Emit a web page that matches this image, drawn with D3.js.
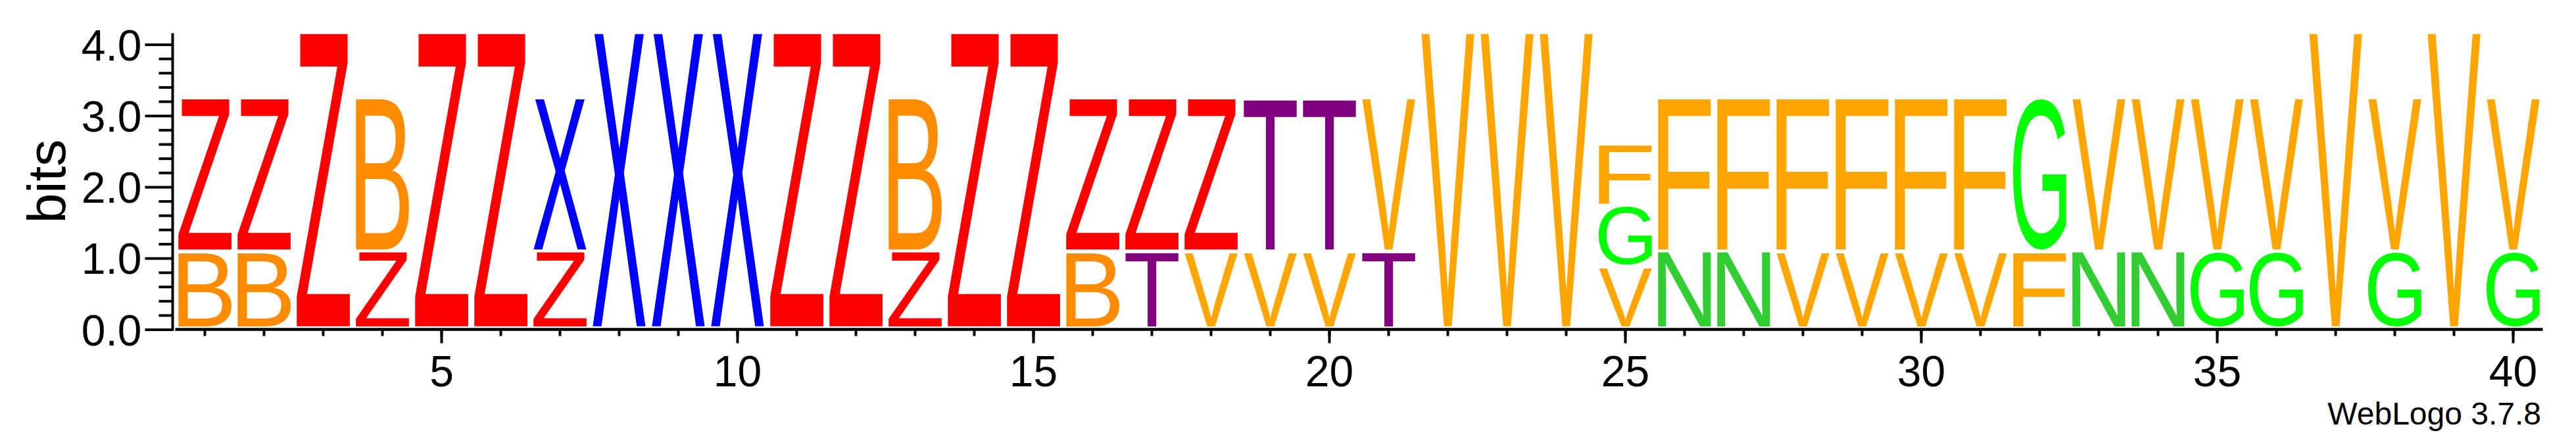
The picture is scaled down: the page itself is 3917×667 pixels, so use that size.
<!DOCTYPE html>
<html><head><meta charset="utf-8">
<script src="https://cdn.jsdelivr.net/npm/d3@7"></script>
<style>html,body{margin:0;padding:0;background:#fff;} svg{display:block;}</style>
</head><body>
<svg id="chart" width="3917" height="667"></svg>
<script>
// ---------- data ----------
const positions = [1,2,3,4,5,6,7,8,9,10,11,12,13,14,15,16,17,18,19,20,
                   21,22,23,24,25,26,27,28,29,30,31,32,33,34,35,36,37,38,39,40];
// letters of each stack, bottom to top
const stackLetters = ["BZ","BZ","Z","ZB","Z","Z","ZX","X","X","X",
                      "Z","Z","ZB","Z","Z","BZ","TZ","VZ","VT","VT",
                      "TV","V","V","V","VGF","NF","NF","VF","VF","VF",
                      "VF","FG","NV","NV","GV","GV","V","GV","V","GV"];
// heights (bits) of each letter, bottom to top
const stackHeights = [
  [1.078,2.156],[1.078,2.156],[4.156],[1.078,2.156],[4.156],[4.156],[1.078,2.156],[4.156],[4.156],[4.156],
  [4.156],[4.156],[1.078,2.156],[4.156],[4.156],[1.078,2.156],[1.078,2.156],[1.078,2.156],[1.078,2.156],[1.078,2.156],
  [1.078,2.156],[4.156],[4.156],[4.156],[0.86,0.86,0.86],[1.078,2.156],[1.078,2.156],[1.078,2.156],[1.078,2.156],[1.078,2.156],
  [1.078,2.156],[1.078,2.156],[1.078,2.156],[1.078,2.156],[1.078,2.156],[1.078,2.156],[4.156],[1.078,2.156],[4.156],[1.078,2.156]
];
const letterColors = {Z:"#FF0000", B:"#FF8C00", X:"#0000FF", T:"#800080",
                      V:"#FFA500", F:"#FFA500", G:"#00FF00", N:"#32CD32"};
const yMajorTicks = [0,1,2,3,4];
const yTickLabels = ["0.0","1.0","2.0","3.0","4.0"];
const yMinorTicks = [0.2,0.4,0.6,0.8,1.2,1.4,1.6,1.8,2.2,2.4,2.6,2.8,3.2,3.4,3.6,3.8];
const xMajorTicks = [5,10,15,20,25,30,35,40];
const yAxisMax = 4.156;
const yAxisTitle = "bits";
const footer = "WebLogo 3.7.8";

// ---------- layout ----------
const FONT = "'Liberation Sans', Arial, Helvetica, sans-serif";
const svg = d3.select("#chart");
const x = d3.scaleBand().domain(positions).range([266.5, 3866.5]).paddingInner(0.1).paddingOuter(0.05);
const y = d3.scaleLinear().domain([0, yAxisMax]).range([500.5, 50.5]);
const glyphPad = 4.7;

// measure glyph ink boxes
const ctx = document.createElement("canvas").getContext("2d");
const REF = 200;
ctx.font = `${REF}px ${FONT}`;
const inkCache = {};
function ink(ch){
  if(!inkCache[ch]){
    const m = ctx.measureText(ch);
    inkCache[ch] = {l:m.actualBoundingBoxLeft, r:m.actualBoundingBoxRight,
                    a:m.actualBoundingBoxAscent, d:m.actualBoundingBoxDescent};
  }
  return inkCache[ch];
}

// build glyph records
const glyphs = [];
positions.forEach((p, i) => {
  let base = 0;
  stackLetters[i].split("").forEach((ch, j) => {
    const h = stackHeights[i][j];
    glyphs.push({pos:p, ch, lo:base, hi:base+h});
    base += h;
  });
});

svg.append("g").attr("class","glyphs")
  .selectAll("text").data(glyphs).join("text")
  .attr("font-family", FONT).attr("font-size", REF)
  .attr("fill", d => letterColors[d.ch])
  .attr("transform", d => {
    const m = ink(d.ch);
    const x0 = x(d.pos), w = x.bandwidth();
    const yb = y(d.lo) - glyphPad, yt = y(d.hi);
    const sx = w / (m.l + m.r), sy = (yb - yt) / (m.a + m.d);
    return `translate(${x0},${yb}) scale(${sx},${sy}) translate(${m.l},${-m.d})`;
  })
  .text(d => d.ch);

// ---------- y axis ----------
const ya = svg.append("g").attr("transform","translate(262.5,0)");
ya.call(d3.axisLeft(y).tickValues(yMinorTicks).tickSize(21).tickSizeOuter(0).tickFormat(""));
ya.call(g => g.select(".domain").remove());
const yb = svg.append("g").attr("transform","translate(262.5,0)");
yb.call(d3.axisLeft(y).tickValues(yMajorTicks).tickSize(42).tickPadding(5).tickSizeOuter(0)
        .tickFormat((d,i) => yTickLabels[i]));
yb.call(g => g.select(".domain").remove());
yb.selectAll("text").attr("font-family", FONT).attr("font-size", 66).attr("fill","#000").attr("dy","0.36em");
svg.selectAll(".tick line").attr("stroke","#000").attr("stroke-width",4);
svg.append("line").attr("x1",262.5).attr("x2",262.5).attr("y1",y(yAxisMax)).attr("y2",y(0)+2.3)
  .attr("stroke","#000").attr("stroke-width",4);

// ---------- x axis ----------
const xa = svg.append("g").attr("transform",`translate(0,${y(0)})`);
xa.call(d3.axisBottom(x).tickSize(10).tickSizeOuter(0).tickFormat(""));
xa.call(g => g.select(".domain").remove());
const xb = svg.append("g").attr("transform",`translate(0,${y(0)})`);
xb.call(d3.axisBottom(x).tickValues(xMajorTicks).tickSize(21).tickPadding(19).tickSizeOuter(0));
xb.call(g => g.select(".domain").remove());
xb.selectAll("text").attr("font-family", FONT).attr("font-size", 66).attr("fill","#000").attr("dy","0.71em");
svg.selectAll(".tick line").attr("stroke","#000").attr("stroke-width",4);
svg.append("line").attr("x1",x.range()[0]).attr("x2",x.range()[1]).attr("y1",y(0)).attr("y2",y(0))
  .attr("stroke","#000").attr("stroke-width",4.5);

// ---------- titles ----------
svg.append("text").attr("transform",`translate(99,${(y(0)+y(yAxisMax))/2}) rotate(-90)`)
  .attr("text-anchor","middle").attr("font-family",FONT).attr("font-size",82).attr("fill","#000")
  .text(yAxisTitle);
svg.append("text").attr("x",3864).attr("y",645).attr("text-anchor","end")
  .attr("font-family",FONT).attr("font-size",48).attr("fill","#000").text(footer);
</script>
</body></html>
